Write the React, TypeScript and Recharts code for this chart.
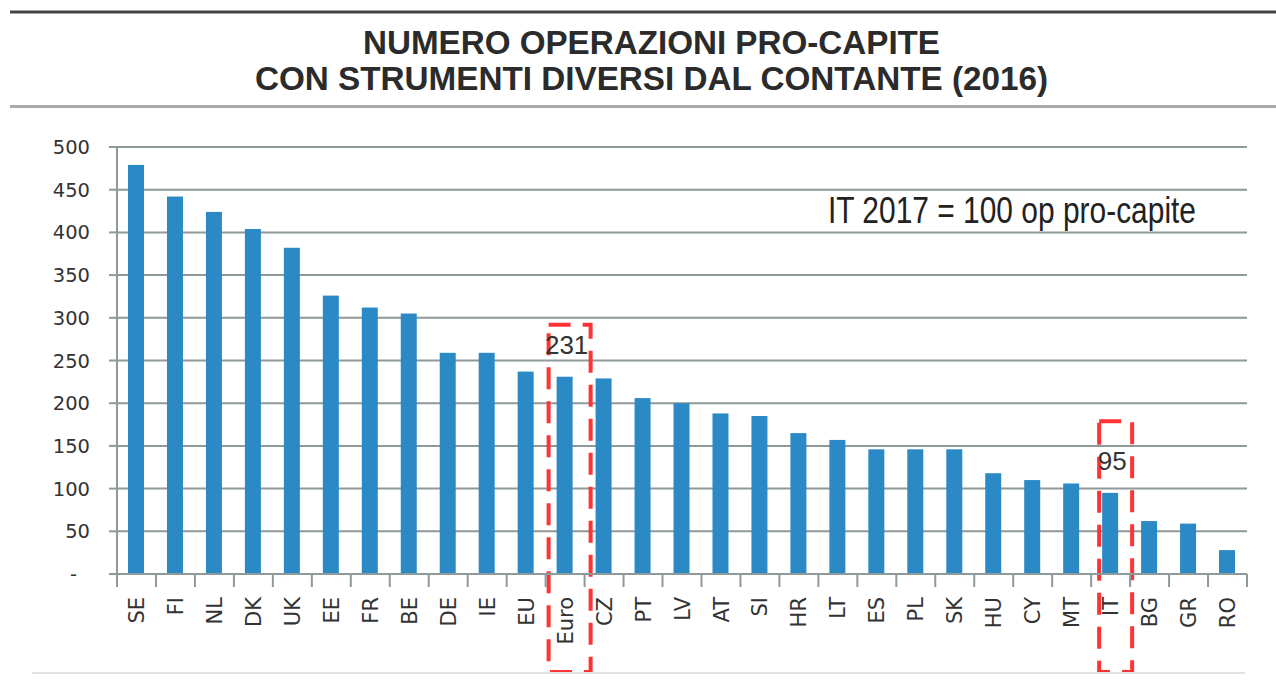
import React from "react";
import { BarChart, Bar, XAxis, YAxis, CartesianGrid } from "recharts";

const countries = ["SE", "FI", "NL", "DK", "UK", "EE", "FR", "BE", "DE", "IE", "EU", "Euro", "CZ", "PT", "LV", "AT", "SI", "HR", "LT", "ES", "PL", "SK", "HU", "CY", "MT", "IT", "BG", "GR", "RO"];
const operations = [479, 442, 424, 404, 382, 326, 312, 305, 259, 259, 237, 231, 229, 206, 200, 188, 185, 165, 157, 146, 146, 146, 118, 110, 106, 95, 62, 59, 28];
const yTicks = [0, 50, 100, 150, 200, 250, 300, 350, 400, 450, 500];
const highlighted = ["Euro", "IT"];
const titleLines = ["NUMERO OPERAZIONI PRO-CAPITE", "CON STRUMENTI DIVERSI DAL CONTANTE (2016)"];
const noteText = "IT 2017 = 100 op pro-capite";

const data = countries.map((c, i) => ({ country: c, value: operations[i] }));

// annotation box styling (value of box top, pixel paddings)
const boxStyles: Record<string, { topValue: number; padLeft: number; padRight: number }> = {
  Euro: { topValue: 292, padLeft: 8, padRight: 18 },
  IT: { topValue: 179, padLeft: 3, padRight: 14 },
};

const W = 1276;
const H = 688;
const PLOT_LEFT = 117;
const PLOT_RIGHT = 1247;
const PLOT_TOP = 147;
const PLOT_BOTTOM = 574;
const BAND = (PLOT_RIGHT - PLOT_LEFT) / countries.length;
const GRID = "#8e9999";
const BAR = "#2b8ac6";

const renderBar = (props: any) => {
  const { x, y, width, height, payload } = props;
  const items: any[] = [<rect key="b" x={x} y={y} width={width} height={height} fill={BAR} />];
  if (highlighted.includes(payload.country)) {
    const st = boxStyles[payload.country];
    const base = y + height;
    const ppu = height / payload.value;
    const top = base - st.topValue * ppu;
    const left = x - st.padLeft;
    const right = x + width + st.padRight;
    const bottom = base + 98;
    items.push(
      <rect
        key="box"
        x={left}
        y={top}
        width={right - left}
        height={bottom - top}
        fill="none"
        stroke="#ff3333"
        strokeWidth={4}
        strokeDasharray="22 12"
      />
    );
    items.push(
      <text
        key="lbl"
        x={x + width / 2 + 2}
        y={y - 23}
        textAnchor="middle"
        fontFamily="'Liberation Sans Narrow', 'Liberation Sans', sans-serif"
        fontSize={26}
        fill="#333"
      >
        {payload.value}
      </text>
    );
  }
  return <g>{items}</g>;
};

const XTick = (props: any) => {
  const { x, y, payload, index } = props;
  const ty = y + 23;
  return (
    <g>
      <line x1={x - BAND / 2} x2={x - BAND / 2} y1={y} y2={y + 13} stroke={GRID} strokeWidth={2} />
      {index === countries.length - 1 && (
        <line x1={x + BAND / 2} x2={x + BAND / 2} y1={y} y2={y + 13} stroke={GRID} strokeWidth={2} />
      )}
      <text
        x={x}
        y={ty}
        dy="0.36em"
        transform={`rotate(-90, ${x}, ${ty})`}
        textAnchor="end"
        fontFamily="'DejaVu Sans', sans-serif"
        fontSize={21}
        fill="#333"
      >
        {payload.value}
      </text>
    </g>
  );
};

const YTick = (props: any) => {
  const { x, y, payload } = props;
  const isZero = payload.value === 0;
  return (
    <text
      x={isZero ? x - 13 : x}
      y={y}
      dy="0.36em"
      textAnchor="end"
      fontFamily="'DejaVu Sans', sans-serif"
      fontSize={19.5}
      fill="#333"
    >
      {isZero ? "-" : payload.value}
    </text>
  );
};

export default function App() {
  return (
    <div style={{ position: "absolute", left: 0, top: 0, width: W, height: H, background: "#fff", overflow: "hidden" }}>
      <div style={{ position: "absolute", left: 0, top: 0 }}>
        <BarChart
          width={W}
          height={H}
          data={data}
          margin={{ top: PLOT_TOP, right: W - PLOT_RIGHT, left: PLOT_LEFT - 60, bottom: 0 }}
          barSize={16}
        >
          <CartesianGrid vertical={false} stroke={GRID} strokeWidth={2} />
          <XAxis
            dataKey="country"
            type="category"
            interval={0}
            height={H - PLOT_BOTTOM}
            tickLine={false}
            tickSize={0}
            tickMargin={0}
            axisLine={{ stroke: GRID, strokeWidth: 2 }}
            tick={<XTick />}
          />
          <YAxis
            type="number"
            domain={[0, 500]}
            ticks={yTicks}
            interval={0}
            width={60}
            tickSize={8}
            tickMargin={19}
            tickLine={{ stroke: GRID, strokeWidth: 2 }}
            axisLine={{ stroke: GRID, strokeWidth: 2 }}
            tick={<YTick />}
          />
          <Bar dataKey="value" fill={BAR} isAnimationActive={false} shape={renderBar} />
        </BarChart>
      </div>
      <svg width={W} height={H} style={{ position: "absolute", left: 0, top: 0, pointerEvents: "none" }}>
        <rect x={10} y={10.5} width={W - 10} height={3} fill="#444" />
        <rect x={10} y={105} width={W - 10} height={3} fill="#aaa" />
        <text
          x={363}
          y={54}
          textLength={577}
          lengthAdjust="spacingAndGlyphs"
          fontFamily="'Liberation Sans Narrow', 'Liberation Sans', sans-serif"
          fontWeight="bold"
          fontSize={33}
          fill="#2b2b2b"
        >
          {titleLines[0]}
        </text>
        <text
          x={255}
          y={90}
          textLength={793}
          lengthAdjust="spacingAndGlyphs"
          fontFamily="'Liberation Sans Narrow', 'Liberation Sans', sans-serif"
          fontWeight="bold"
          fontSize={33}
          fill="#2b2b2b"
        >
          {titleLines[1]}
        </text>
        <text
          x={828}
          y={223}
          textLength={368}
          lengthAdjust="spacingAndGlyphs"
          fontFamily="'Liberation Sans Narrow', 'Liberation Sans', sans-serif"
          fontSize={36}
          fill="#222"
        >
          {noteText}
        </text>
        <line x1={32} x2={1245} y1={673} y2={673} stroke="#e2e2e2" strokeWidth={2} />
      </svg>
    </div>
  );
}
